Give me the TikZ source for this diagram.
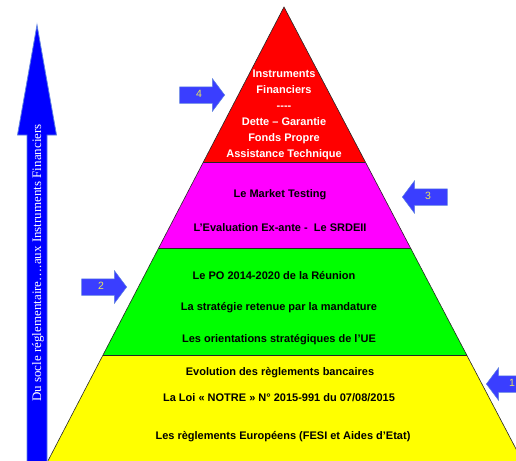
\documentclass[tikz,border=0pt]{standalone}
\usepackage{fontspec}
\setmainfont{Liberation Serif}
\setsansfont{Liberation Sans}
\usetikzlibrary{shapes.arrows}
\definecolor{arrowblue}{RGB}{58,62,255}
\definecolor{arrowedge}{RGB}{95,130,225}
\definecolor{numyellow}{RGB}{235,230,90}
\definecolor{topred}{RGB}{255,0,0}
\definecolor{midmagenta}{RGB}{255,0,255}
\definecolor{midgreen}{RGB}{0,255,0}
\definecolor{baseyellow}{RGB}{255,255,0}
\definecolor{bigblue}{RGB}{0,0,255}
\tikzset{
	layer/.style={draw=black!85,line width=0.6pt},
	lbl/.style={font=\sffamily\bfseries\fontsize{11}{16}\selectfont,align=center,inner sep=0pt},
	numarrow/.style={single arrow,fill=arrowblue,draw=arrowedge,line width=0.5pt,
		minimum height=45pt,minimum width=32pt,single arrow head extend=8pt,
		single arrow tip angle=106,inner xsep=2pt,inner ysep=4pt,text height=6pt,text depth=2pt,
		font=\sffamily\fontsize{10.5}{10.5}\selectfont,text=numyellow,anchor=tip}
}
\begin{document}
\begin{tikzpicture}[x=1pt,y=-1pt]
	\useasboundingbox (0,0) rectangle (516,460);
	\clip (0,0) rectangle (516,460);
	\coordinate (apex) at (284,7);
	\coordinate (L1) at (203.4,162);
	\coordinate (R1) at (365.4,162);
	\coordinate (L2) at (158.7,248);
	\coordinate (R2) at (410.5,248);
	\coordinate (L3) at (103,355);
	\coordinate (R3) at (466.7,355);
	\coordinate (L4) at (40.6,475);
	\coordinate (R4) at (529.7,475);
	\fill[baseyellow] (L3) -- (R3) -- (R4) -- (L4) -- cycle;
	\fill[midgreen] (L2) -- (R2) -- (R3) -- (L3) -- cycle;
	\fill[midmagenta] (L1) -- (R1) -- (R2) -- (L2) -- cycle;
	\fill[topred] (apex) -- (R1) -- (L1) -- cycle;
	\draw[layer] (L4) -- (apex) -- (R4);
	\draw[layer] (L1) -- (R1);
	\draw[layer] (L2) -- (R2);
	\draw[layer] (L3) -- (R3);
	\node[lbl,text=white] (IF) at (284,115) {Instruments\\Financiers\\{-}{-}{-}{-}\\Dette – Garantie\\Fonds Propre\\Assistance Technique};
	\node[lbl] (MT) at (280,195) {Le Market Testing};
	\node[lbl] (EV) at (280,228) {L’Evaluation Ex-ante -\ \ Le SRDEII};
	\node[lbl] (PO) at (274,276) {Le PO 2014-2020 de la Réunion};
	\node[lbl] (ST) at (279,308) {La stratégie retenue par la mandature};
	\node[lbl] (UE) at (279,340) {Les orientations stratégiques de l’UE};
	\node[lbl] (RB) at (280,373) {Evolution des règlements bancaires};
	\node[lbl] (NO) at (279,398) {La Loi « NOTRE » N° 2015-991 du 07/08/2015};
	\node[lbl] (RE) at (283,437) {Les règlements Européens (FESI et Aides d’Etat)};
	\draw[fill=bigblue,draw=arrowedge,line width=0.8pt] (27,475) -- (27,135) -- (17.5,135) -- (37,25) -- (56.5,135) -- (47,135) -- (47,475) -- cycle;
	\node[rotate=90,text=white,font=\fontsize{13}{13}\selectfont,inner sep=0pt] (socle) at (38,263) {Du socle réglementaire….aux Instruments Financiers};
	\node[numarrow] (n4) at (225,95) {4};
	\node[numarrow,shape border rotate=180] (n3) at (402,197) {3};
	\node[numarrow] (n2) at (127,287) {2};
	\node[numarrow,shape border rotate=180] (n1) at (486,384) {1};
\end{tikzpicture}
\end{document}
